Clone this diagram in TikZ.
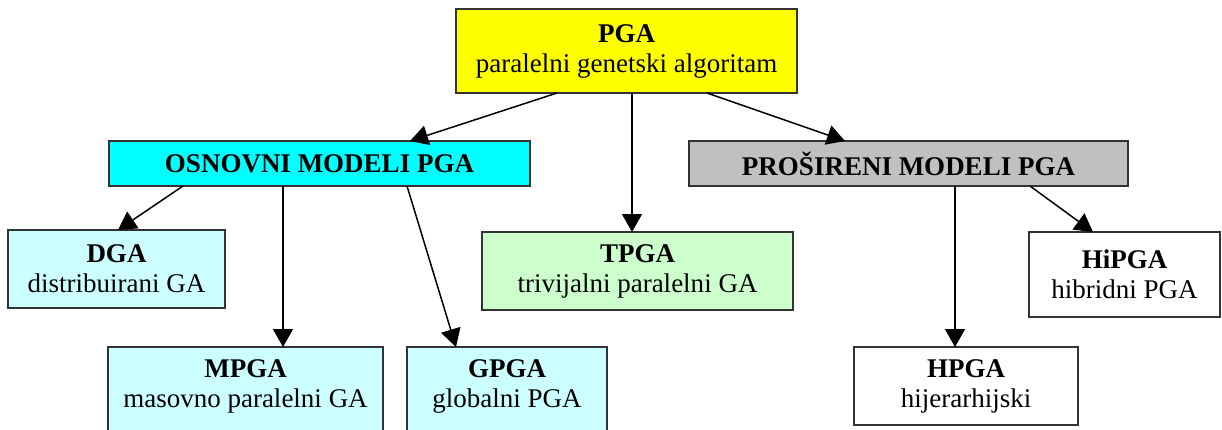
\documentclass[tikz,border=0pt]{standalone}
\usepackage{fontspec}
\setmainfont{Liberation Serif}
\usetikzlibrary{arrows.meta}
\definecolor{cYellow}{HTML}{FFFF00}
\definecolor{cCyan}{HTML}{00FFFF}
\definecolor{cGray}{HTML}{C0C0C0}
\definecolor{cLCyan}{HTML}{CCFFFF}
\definecolor{cLGreen}{HTML}{CCFFCC}
\definecolor{cEdge}{HTML}{333333}
\tikzset{
  box/.style={draw=cEdge, line width=1.8pt, rectangle, inner sep=0pt, outer sep=0pt,
    align=center, font=\fontsize{27}{30}\selectfont},
  arr/.style={draw=black, line width=1.5pt, -{Triangle[length=18pt,width=20pt]}}
}
\begin{document}
\begin{tikzpicture}[x=1pt,y=-1pt]
\useasboundingbox (0,0) rectangle (1222,429);
\clip (0,0) rectangle (1222,429);
\fill[white] (0,0) rectangle (1222,429);

\node[box, fill=cYellow, minimum width=341pt, minimum height=84pt] (pga) at (626.5,51)
  {\textbf{PGA}\\paralelni genetski algoritam};
\node[box, fill=cCyan, minimum width=421pt, minimum height=45pt] (osn) at (319.5,163.5)
  {\textbf{OSNOVNI MODELI PGA}};
\node[box, fill=cGray, minimum width=439pt, minimum height=45pt] (pro) at (908.5,163.5)
  {\textbf{PROŠIRENI MODELI PGA}};
\node[box, fill=cLCyan, minimum width=217pt, minimum height=78pt] (dga) at (116.5,269)
  {\textbf{DGA}\\distribuirani GA};
\node[box, fill=cLGreen, minimum width=311pt, minimum height=78pt] (tpga) at (637.5,271)
  {\textbf{TPGA}\\trivijalni paralelni GA};
\node[box, fill=white, minimum width=191pt, minimum height=85pt] (hipga) at (1124.5,274.5)
  {\textbf{HiPGA}\\hibridni PGA};
\node[box, fill=cLCyan, minimum width=275pt, minimum height=100pt, anchor=north, text depth=26pt] (mpga) at (245.5,347)
  {\textbf{MPGA}\\masovno paralelni GA};
\node[box, fill=cLCyan, minimum width=200pt, minimum height=100pt, anchor=north, text depth=26pt] (gpga) at (507,347)
  {\textbf{GPGA}\\globalni PGA};
\node[box, fill=white, minimum width=224pt, minimum height=78pt] (hpga) at (966,386)
  {\textbf{HPGA}\\hijerarhijski};

\draw[arr] ([xshift=-69.5pt]pga.south) -- ([xshift=90.5pt]osn.north);
\draw[arr] ([xshift=5.5pt]pga.south) -- ([xshift=-5.5pt]tpga.north);
\draw[arr] ([xshift=80.5pt]pga.south) -- ([xshift=-63.5pt]pro.north);
\draw[arr] ([xshift=-136.5pt]osn.south) -- ([xshift=1.5pt]dga.north);
\draw[arr] ([xshift=-36.5pt]osn.south) -- ([xshift=37.5pt]mpga.north);
\draw[arr] ([xshift=87.5pt]osn.south) -- ([xshift=-51pt]gpga.north);
\draw[arr] ([xshift=46.5pt]pro.south) -- ([xshift=-11pt]hpga.north);
\draw[arr] ([xshift=121.5pt]pro.south) -- ([xshift=-31.5pt]hipga.north);
\end{tikzpicture}
\end{document}
